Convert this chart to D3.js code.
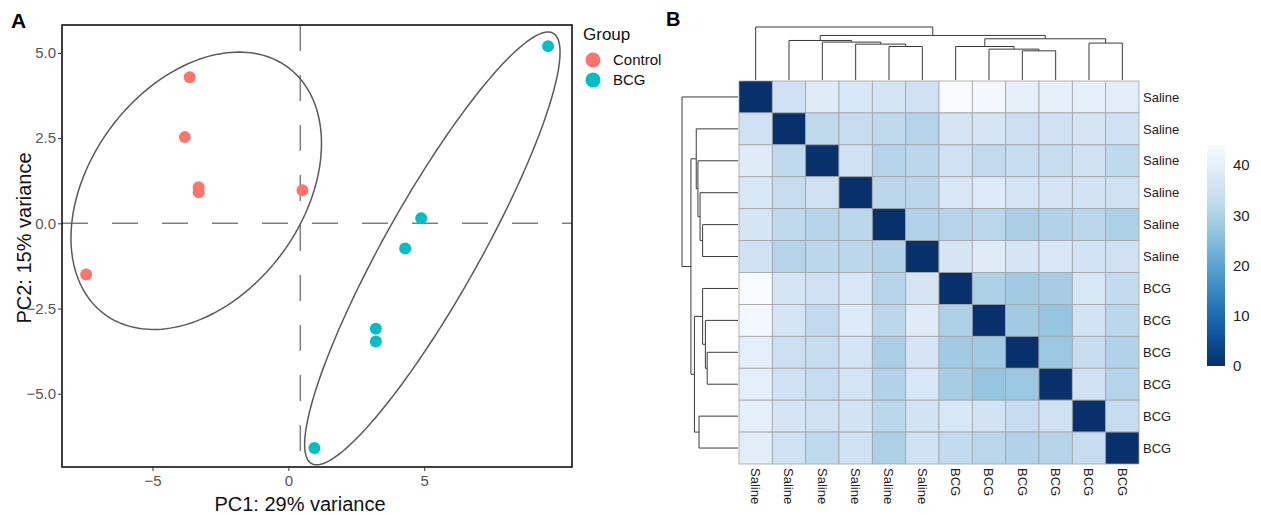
<!DOCTYPE html>
<html>
<head>
<meta charset="utf-8">
<script src="https://cdn.jsdelivr.net/npm/d3@7"></script>
<style>
  body { margin: 0; background: #fff; }
  text { font-family: "Liberation Sans", Arial, sans-serif; }
</style>
</head>
<body>
<script>
var W = 1261, H = 515;

// ---- panel A data (PCA) ----
var groupNames = ["Control", "BCG"];
var groupColors = ["#F8766D", "#00BFC4"];
var pc1 = [-3.63, -3.81, -3.3, -3.3, 0.52, -7.44, 9.56, 4.89, 4.3, 3.22, 3.22, 0.96];
var pc2 = [4.29, 2.53, 1.06, 0.91, 0.97, -1.5, 5.2, 0.15, -0.74, -3.09, -3.47, -6.59];
var sampleGroup = [0, 0, 0, 0, 0, 0, 1, 1, 1, 1, 1, 1];
var xTicks = [-5, 0, 5];
var yTicks = [-5, -2.5, 0, 2.5, 5];
var vLineX = 0.44;
// ellipse per group: centre, half-ranges, correlation
var ellCx = [-3.39, 5.30];
var ellCy = [0.956, -0.735];
var ellSx = [4.61, 4.70];
var ellSy = [4.07, 6.35];
var ellRho = [0.341, 0.906];

// ---- panel B data (sample distances) ----
var hmLabels = ["Saline", "Saline", "Saline", "Saline", "Saline", "Saline",
                "BCG", "BCG", "BCG", "BCG", "BCG", "BCG"];
var sampleDist = [
  [0, 35.1, 38.6, 37.2, 36.5, 35.1, 44, 43, 40, 40, 40, 39.3],
  [35.1, 0, 32.3, 33.7, 32.3, 30.9, 36.5, 36.5, 34.4, 35.1, 36.5, 35.1],
  [38.6, 32.3, 0, 35.1, 30.9, 31.6, 35.1, 32.7, 33.4, 33.4, 35.5, 32.3],
  [37.2, 33.7, 35.1, 0, 31.6, 31.6, 37.2, 38.3, 36.2, 36.2, 35.8, 35.1],
  [36.5, 32.3, 30.9, 31.6, 0, 30.2, 30.9, 31.6, 29.2, 30.2, 31.6, 29.5],
  [35.1, 30.9, 31.6, 31.6, 30.2, 0, 36.5, 38.6, 36.5, 37.2, 35.8, 35.1],
  [44, 36.5, 35.1, 37.2, 30.9, 36.5, 0, 29.5, 28.1, 28.8, 37.2, 33],
  [43, 36.5, 32.7, 38.3, 31.6, 38.6, 29.5, 0, 28.1, 26.7, 35.8, 31.6],
  [40, 34.4, 33.4, 36.2, 29.2, 36.5, 28.1, 28.1, 0, 27.4, 33.7, 30.2],
  [40, 35.1, 33.4, 36.2, 30.2, 37.2, 28.8, 26.7, 27.4, 0, 35.1, 30.9],
  [40, 36.5, 35.5, 35.8, 31.6, 35.8, 37.2, 35.8, 33.7, 35.1, 0, 33.7],
  [39.3, 35.1, 32.3, 35.1, 29.5, 35.1, 33, 31.6, 30.2, 30.9, 33.7, 0]
];
// hclust-style tree: negative = leaf (1-based), positive = earlier merge
var treeMerge = [[-5, -6], [-4, 1], [-3, 2], [-2, 3], [-9, -10], [-8, 5],
                 [-7, 6], [-11, -12], [7, 8], [4, 9], [-1, 10]];
var treeHeight = [33.3, 35.7, 37.7, 39.3, 29.0, 30.7, 33.3, 36.7, 41.0, 44.3, 52.7];
var legendTicks = [0, 10, 20, 30, 40];
var distMax = 44;

var svg = d3.select("body").append("svg")
    .attr("width", W).attr("height", H);

// ================= Panel A =================
var x = d3.scaleLinear().domain([-8.33, 10.44]).range([62, 572]);
var y = d3.scaleLinear().domain([-7.15, 5.82]).range([467, 25]);

var pa = svg.append("g");

// dashed reference lines
pa.append("line")
    .attr("x1", x.range()[0]).attr("x2", x.range()[1])
    .attr("y1", y(0)).attr("y2", y(0))
    .attr("stroke", "#7f7f7f").attr("stroke-width", 1.5)
    .attr("stroke-dasharray", "26,24");
pa.append("line")
    .attr("x1", x(vLineX)).attr("x2", x(vLineX))
    .attr("y1", y.range()[1]).attr("y2", y.range()[0])
    .attr("stroke", "#7f7f7f").attr("stroke-width", 1.5)
    .attr("stroke-dasharray", "26,24");

// ellipses
var line = d3.line().x(function(d){ return x(d[0]); }).y(function(d){ return y(d[1]); });
groupNames.forEach(function(g, i){
    var phi = Math.acos(ellRho[i]);
    var pts = d3.range(0, 2 * Math.PI + 0.01, Math.PI / 90).map(function(t){
        return [ellCx[i] + ellSx[i] * Math.cos(t), ellCy[i] + ellSy[i] * Math.cos(t - phi)];
    });
    pa.append("path")
        .attr("d", line(pts))
        .attr("fill", "none")
        .attr("stroke", "#595959")
        .attr("stroke-width", 1.5);
});

// points
pa.selectAll("circle.pt")
    .data(pc1)
    .enter()
    .append("circle")
    .attr("class", "pt")
    .attr("cx", function(d){ return x(d); })
    .attr("cy", function(d, i){ return y(pc2[i]); })
    .attr("r", 6)
    .attr("fill", function(d, i){ return groupColors[sampleGroup[i]]; });

// frame
pa.append("rect")
    .attr("x", 62).attr("y", 25)
    .attr("width", 510).attr("height", 442)
    .attr("fill", "none").attr("stroke", "#111").attr("stroke-width", 1.6);

// axes
var xAxis = pa.append("g")
    .attr("transform", "translate(0," + y.range()[0] + ")")
    .call(d3.axisBottom(x).tickValues(xTicks).tickSize(4).tickSizeOuter(0));
var yAxis = pa.append("g")
    .attr("transform", "translate(" + x.range()[0] + ",0)")
    .call(d3.axisLeft(y).tickValues(yTicks).tickFormat(d3.format(".1f")).tickSize(4).tickSizeOuter(0));
[xAxis, yAxis].forEach(function(a){
    a.select(".domain").remove();
    a.selectAll(".tick line").attr("stroke", "#333");
    a.selectAll(".tick text")
        .attr("fill", "#555")
        .style("font-size", "15px")
        .style("font-family", "Liberation Sans, Arial, sans-serif");
});
yAxis.selectAll(".tick text").attr("x", -6);
xAxis.selectAll(".tick text").attr("y", 8);

pa.append("text")
    .attr("x", 300).attr("y", 511)
    .attr("text-anchor", "middle")
    .style("font-size", "20px").attr("fill", "#111")
    .text("PC1: 29% variance");
pa.append("text")
    .attr("transform", "translate(31," + 238 + ") rotate(-90)")
    .attr("text-anchor", "middle")
    .style("font-size", "20px").attr("fill", "#111")
    .text("PC2: 15% variance");

// legend
pa.append("text").attr("x", 583).attr("y", 40)
    .style("font-size", "17px").attr("fill", "#111").text("Group");
var lg = pa.selectAll("g.lg").data(groupNames).enter().append("g")
    .attr("class", "lg")
    .attr("transform", function(d, i){ return "translate(593," + (60 + i * 20) + ")"; });
lg.append("circle").attr("r", 7.5).attr("fill", function(d, i){ return groupColors[i]; });
lg.append("text").attr("x", 20).attr("dy", "0.36em")
    .style("font-size", "15px").attr("fill", "#111")
    .text(function(d){ return d; });

// panel letters
svg.append("text").attr("x", 11).attr("y", 28)
    .style("font-size", "21px").style("font-weight", "bold").text("A");
svg.append("text").attr("x", 666).attr("y", 26)
    .style("font-size", "20px").style("font-weight", "bold").text("B");

// ================= Panel B =================
var n = hmLabels.length;
var cx = d3.scaleBand().domain(d3.range(n)).range([739, 1139]);
var cy = d3.scaleBand().domain(d3.range(n)).range([81, 464]);
var color = d3.scaleSequential(d3.interpolateBlues).domain([distMax, 0]);

var pb = svg.append("g");
var cells = [];
sampleDist.forEach(function(row, i){
    row.forEach(function(v, j){ cells.push({ r: i, c: j, v: v }); });
});
pb.selectAll("rect.cell")
    .data(cells)
    .enter()
    .append("rect")
    .attr("class", "cell")
    .attr("x", function(d){ return cx(d.c); })
    .attr("y", function(d){ return cy(d.r); })
    .attr("width", cx.bandwidth())
    .attr("height", cy.bandwidth())
    .attr("fill", function(d){ return color(d.v); })
    .attr("stroke", "#a3a3a3")
    .attr("stroke-width", 0.8);

// row labels
pb.selectAll("text.rl")
    .data(hmLabels)
    .enter()
    .append("text")
    .attr("class", "rl")
    .attr("x", 1143)
    .attr("y", function(d, i){ return cy(i) + cy.bandwidth() / 2; })
    .attr("dy", "0.36em")
    .style("font-size", "13px").attr("fill", "#222")
    .text(function(d){ return d; });

// column labels
pb.selectAll("text.cl")
    .data(hmLabels)
    .enter()
    .append("text")
    .attr("class", "cl")
    .attr("transform", function(d, i){
        return "translate(" + (cx(i) + cx.bandwidth() / 2) + ",468) rotate(90)";
    })
    .attr("dy", "0.36em")
    .style("font-size", "13px").attr("fill", "#222")
    .text(function(d){ return d; });

// dendrograms
function layoutTree(posOf){
    var nodes = [];
    function get(k){
        if (k < 0) return { p: posOf(-k - 1), h: 0 };
        return nodes[k - 1];
    }
    var segs = [];
    treeMerge.forEach(function(m, i){
        var a = get(m[0]), b = get(m[1]), h = treeHeight[i];
        segs.push([a.p, a.h, a.p, h]);
        segs.push([b.p, b.h, b.p, h]);
        segs.push([a.p, h, b.p, h]);
        nodes.push({ p: (a.p + b.p) / 2, h: h });
    });
    return segs;
}
var maxH = d3.max(treeHeight);
var hTop = d3.scaleLinear().domain([0, maxH]).range([80, 27]);
var hLeft = d3.scaleLinear().domain([0, maxH]).range([738, 682]);

var topSegs = layoutTree(function(i){ return cx(i) + cx.bandwidth() / 2; });
pb.selectAll("line.dt").data(topSegs).enter().append("line")
    .attr("class", "dt")
    .attr("x1", function(d){ return d[0]; })
    .attr("y1", function(d){ return hTop(d[1]); })
    .attr("x2", function(d){ return d[2]; })
    .attr("y2", function(d){ return hTop(d[3]); })
    .attr("stroke", "#3a3a3a").attr("stroke-width", 1);

var leftSegs = layoutTree(function(i){ return cy(i) + cy.bandwidth() / 2; });
pb.selectAll("line.dl").data(leftSegs).enter().append("line")
    .attr("class", "dl")
    .attr("y1", function(d){ return d[0]; })
    .attr("x1", function(d){ return hLeft(d[1]); })
    .attr("y2", function(d){ return d[2]; })
    .attr("x2", function(d){ return hLeft(d[3]); })
    .attr("stroke", "#3a3a3a").attr("stroke-width", 1);

// colour legend
var ly = d3.scaleLinear().domain([0, distMax]).range([366, 145]);
var grad = svg.append("defs").append("linearGradient")
    .attr("id", "distgrad").attr("x1", 0).attr("y1", 1).attr("x2", 0).attr("y2", 0);
d3.range(0, 1.0001, 0.05).forEach(function(t){
    grad.append("stop").attr("offset", t).attr("stop-color", color(t * distMax));
});
pb.append("rect")
    .attr("x", 1207).attr("y", ly(distMax))
    .attr("width", 18).attr("height", ly(0) - ly(distMax))
    .attr("fill", "url(#distgrad)");
pb.selectAll("text.lt").data(legendTicks).enter().append("text")
    .attr("class", "lt")
    .attr("x", 1233)
    .attr("y", function(d){ return ly(d); })
    .attr("dy", "0.36em")
    .style("font-size", "15px").attr("fill", "#222")
    .text(function(d){ return d; });
</script>
</body>
</html>
